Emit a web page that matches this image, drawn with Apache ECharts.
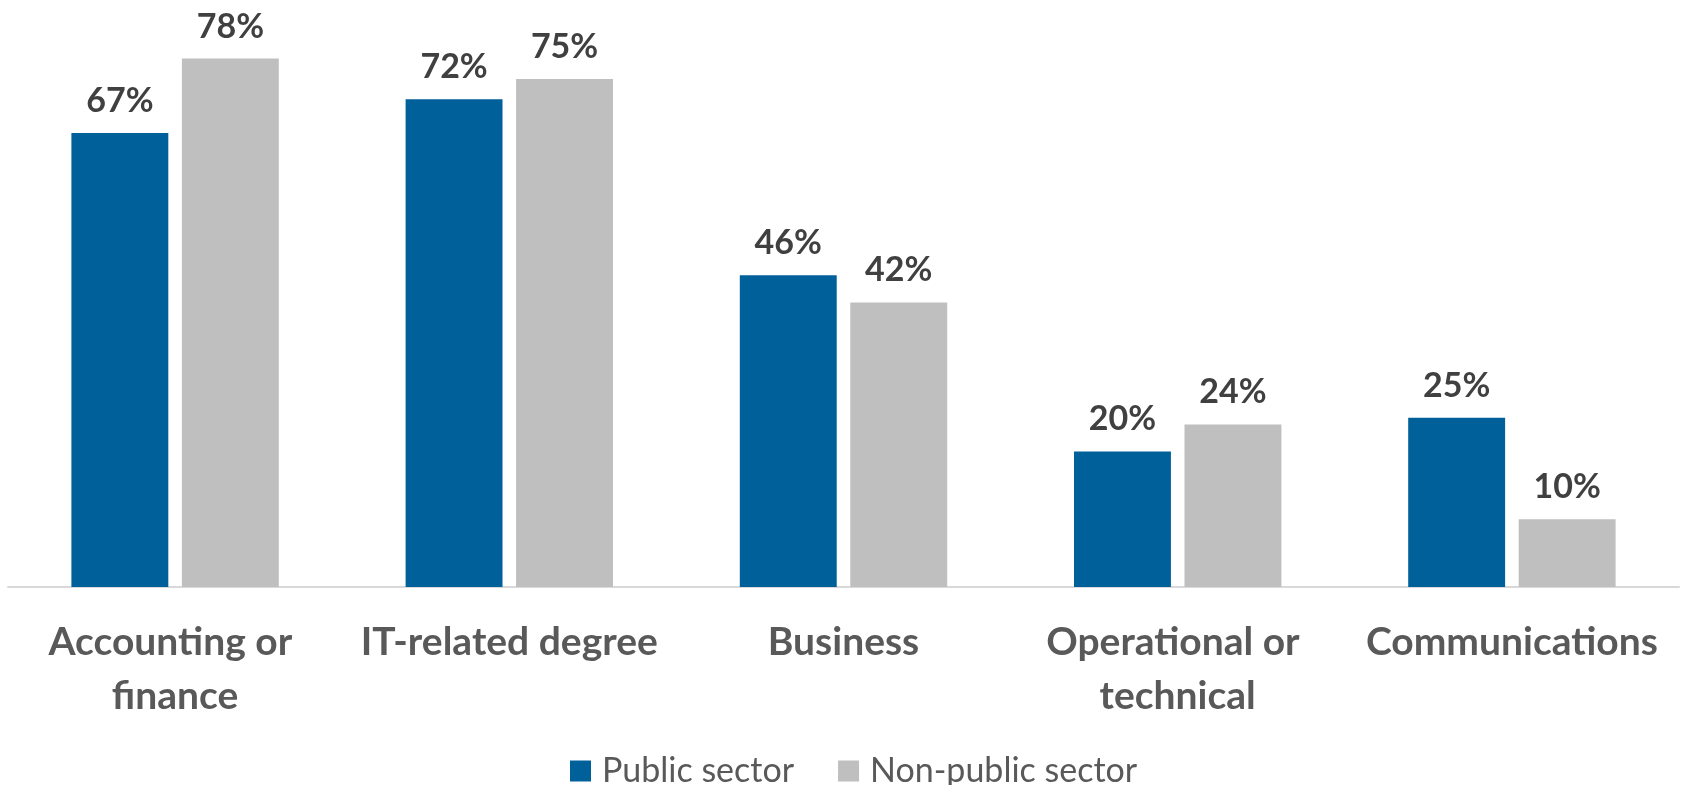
<!DOCTYPE html>
<html>
<head>
<meta charset="utf-8">
<script src="https://cdn.jsdelivr.net/npm/echarts@6/dist/echarts.min.js"></script>
<style>
  html, body { margin: 0; padding: 0; background: #ffffff; }
  #chart { width: 1681px; height: 785px; }
</style>
</head>
<body>
<div id="chart"></div>
<script>
// Degree areas and the share of respondents in each sector
const categories = ['Accounting or finance', 'IT-related degree', 'Business', 'Operational or technical', 'Communications'];
const seriesNames = ['Public sector', 'Non-public sector'];
const publicSector = [0.67, 0.72, 0.46, 0.20, 0.25];
const nonPublicSector = [0.78, 0.75, 0.42, 0.24, 0.10];

const FONT = 'Lato, "Open Sans", sans-serif';

const pct = v => Math.round(v * 100) + '%';

const labelStyle = {
  show: true,
  position: 'top',
  distance: 15,
  formatter: p => pct(p.value),
  fontFamily: FONT,
  fontWeight: 'bold',
  fontSize: 34,
  color: '#404040'
};

const chart = echarts.init(document.getElementById('chart'), null, { renderer: 'canvas' });

chart.setOption({
  animation: false,
  backgroundColor: '#ffffff',
  grid: { left: 8, right: 2, top: 45, bottom: 198, containLabel: false },
  legend: {
    data: seriesNames,
    left: 565,
    top: 748,
    itemWidth: 21,
    itemHeight: 21,
    itemGap: 44,
    icon: 'rect',
    textStyle: {
      fontFamily: FONT,
      fontSize: 34,
      color: '#595959',
      lineHeight: 36,
      padding: [0, 0, 0, 6]
    }
  },
  xAxis: {
    type: 'category',
    data: categories,
    axisLine: { show: true, lineStyle: { color: '#D9D9D9', width: 2 } },
    axisTick: { show: false },
    axisLabel: {
      interval: 0,
      margin: 28,
      fontFamily: FONT,
      fontWeight: 'bold',
      fontSize: 39,
      lineHeight: 54,
      color: '#595959',
      width: 325,
      overflow: 'break'
    }
  },
  yAxis: {
    type: 'value',
    min: 0,
    max: 0.8,
    interval: 0.1,
    show: false,
    splitLine: { show: false }
  },
  series: [
    {
      name: seriesNames[0],
      type: 'bar',
      data: publicSector,
      barWidth: '29%',
      barGap: '14%',
      itemStyle: { color: '#00609A' },
      label: labelStyle
    },
    {
      name: seriesNames[1],
      type: 'bar',
      data: nonPublicSector,
      barWidth: '29%',
      barGap: '14%',
      itemStyle: { color: '#BFBFBF' },
      label: labelStyle
    }
  ]
});
</script>
</body>
</html>
